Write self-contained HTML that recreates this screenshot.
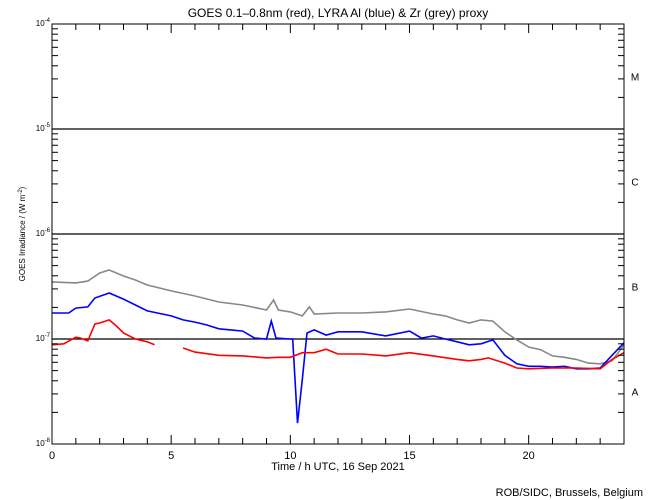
<!DOCTYPE html>
<html><head><meta charset="utf-8"><style>
body{margin:0;background:#fff}
svg{display:block;font-family:"Liberation Sans",sans-serif}
</style></head><body>
<svg id="chart" width="650" height="500" viewBox="0 0 650 500">
<rect width="650" height="500" fill="#fff"/>
<text x="338" y="17" font-size="12" text-anchor="middle">GOES 0.1–0.8nm (red), LYRA Al (blue) &amp; Zr (grey) proxy</text>
<g id="grid"></g>
<g id="series"></g>
<rect x="52" y="24" width="572" height="420" fill="none" stroke="#000" stroke-width="1"/>
<g id="axes"></g>
<text transform="translate(25,234) rotate(-90)" font-size="8" text-anchor="middle">GOES Irradiance / (W m<tspan dy="-3" font-size="6">-2</tspan><tspan dy="3">)</tspan></text>
<text x="338" y="470" font-size="11" text-anchor="middle">Time / h UTC, 16 Sep 2021</text>
<text x="643" y="496" font-size="11" text-anchor="end">ROB/SIDC, Brussels, Belgium</text>
</svg>
<script>
const hoursGrey=[0,1,1.5,2,2.4,3,3.5,4,5,6,7,8,9,9.3,9.5,10,10.5,10.8,11,12,13,14,15,16,16.5,17,17.5,18,18.5,19,19.5,20,20.5,21,21.5,22,22.5,23,23.5,24];
const zrGrey=[3.5e-7,3.42e-7,3.56e-7,4.25e-7,4.54e-7,3.98e-7,3.65e-7,3.27e-7,2.87e-7,2.57e-7,2.25e-7,2.11e-7,1.89e-7,2.35e-7,1.89e-7,1.81e-7,1.66e-7,2.02e-7,1.73e-7,1.77e-7,1.77e-7,1.81e-7,1.93e-7,1.73e-7,1.66e-7,1.52e-7,1.42e-7,1.52e-7,1.48e-7,1.17e-7,0.98e-7,0.84e-7,0.79e-7,0.69e-7,0.67e-7,0.64e-7,0.59e-7,0.58e-7,0.62e-7,0.88e-7];
const hoursBlue=[0,0.7,1,1.5,1.8,2.4,3,3.5,4,5,5.5,6,6.5,7,7.5,8,8.5,9,9.2,9.4,10,10.1,10.3,10.5,10.7,11,11.5,12,13,14,15,15.5,16,16.5,17,17.5,18,18.5,19,19.5,20,20.5,21,21.5,22,22.5,23,23.5,24];
const alBlue=[1.77e-7,1.77e-7,1.97e-7,2.02e-7,2.46e-7,2.74e-7,2.4e-7,2.11e-7,1.85e-7,1.66e-7,1.52e-7,1.45e-7,1.36e-7,1.25e-7,1.22e-7,1.19e-7,1.02e-7,1.0e-7,1.48e-7,1.02e-7,1.0e-7,1.0e-7,1.58e-8,4.1e-8,1.14e-7,1.22e-7,1.09e-7,1.17e-7,1.17e-7,1.07e-7,1.19e-7,1.02e-7,1.07e-7,1.0e-7,0.94e-7,0.88e-7,0.9e-7,0.98e-7,0.7e-7,0.58e-7,0.55e-7,0.55e-7,0.54e-7,0.55e-7,0.52e-7,0.52e-7,0.53e-7,0.7e-7,0.92e-7];
const hoursRed=[0,0.5,1,1.2,1.5,1.8,2,2.4,2.7,3,3.5,4,4.3,null,5.5,6,7,8,9,9.5,10,10.5,11,11.5,12,13,14,15,16,17,17.5,18,18.3,19,19.5,20,21,22,23,23.5,24];
const goesRed=[0.88e-7,0.9e-7,1.04e-7,1.02e-7,0.96e-7,1.39e-7,1.42e-7,1.52e-7,1.33e-7,1.14e-7,1.0e-7,0.94e-7,0.88e-7,null,0.82e-7,0.75e-7,0.7e-7,0.69e-7,0.66e-7,0.67e-7,0.67e-7,0.74e-7,0.74e-7,0.8e-7,0.72e-7,0.72e-7,0.69e-7,0.74e-7,0.69e-7,0.64e-7,0.62e-7,0.64e-7,0.66e-7,0.59e-7,0.53e-7,0.52e-7,0.53e-7,0.53e-7,0.52e-7,0.64e-7,0.74e-7];
const xTickLabels=[0,5,10,15,20];
const yDecades=[-8,-7,-6,-5,-4];
const classLabels=["A","B","C","M"];

const NS="http://www.w3.org/2000/svg";
const X0=52,X1=624,Y0=444,Y1=24;
function xs(h){return X0+(h/24)*(X1-X0);}
function ys(v){return Y0-(Math.log10(v)+8)/4*(Y0-Y1);}
function mk(tag,attrs,parent){const e=document.createElementNS(NS,tag);for(const k in attrs)e.setAttribute(k,attrs[k]);parent.appendChild(e);return e;}
const grid=document.getElementById('grid'),axes=document.getElementById('axes'),ser=document.getElementById('series');

[-7,-6,-5].forEach(d=>{
  const l=mk('line',{x1:X0,x2:X1,y1:ys(Math.pow(10,d)),y2:ys(Math.pow(10,d)),stroke:'#000','stroke-width':1.3},grid);
  
  
});
for(let h=0;h<=24;h++){
  const len=(h%5===0)?9:6;
  const t1=mk('line',{x1:xs(h),x2:xs(h),y1:Y0,y2:Y0-len,stroke:'#000'},axes);
  
  
  const t2=mk('line',{x1:xs(h),x2:xs(h),y1:Y1,y2:Y1+len,stroke:'#000'},axes);
  
  
}
xTickLabels.forEach(h=>{
  const t=mk('text',{x:xs(h),y:Y0+15,'font-size':11,'text-anchor':'middle'},axes);t.textContent=h;
  
  
});
for(let d=-8;d<-4;d++){for(let m=2;m<=9;m++){
  const y=ys(m*Math.pow(10,d));
  const a=mk('line',{x1:X0,x2:X0+6,y1:y,y2:y,stroke:'#000'},axes);
  
  
  const b=mk('line',{x1:X1,x2:X1-6,y1:y,y2:y,stroke:'#000'},axes);
  
  
}}
yDecades.forEach(d=>{
  const y=ys(Math.pow(10,d));
  const t=mk('text',{x:X0-2,y:y+2,'font-size':8,'text-anchor':'end'},axes);
  t.innerHTML='10<tspan dy="-4" font-size="6">'+d+'</tspan>';
  
  
});
classLabels.forEach((c,i)=>{
  const y=(ys(Math.pow(10,-8+i))+ys(Math.pow(10,-7+i)))/2;
  const t=mk('text',{x:635,y:y+4,'font-size':10,'text-anchor':'middle'},axes);t.textContent=c;
  
  
});
function draw(hs,vs,color,name){
  let d='',pen=false;
  for(let i=0;i<hs.length;i++){
    if(hs[i]===null||vs[i]===null){pen=false;continue;}
    d+=(pen?'L':'M')+xs(hs[i]).toFixed(1)+' '+ys(vs[i]).toFixed(1);pen=true;
  }
  const p=mk('path',{d:d,fill:'none',stroke:color,'stroke-width':1.6},ser);
  
  
}
draw(hoursGrey,zrGrey,'#888888','zr-grey-series');
draw(hoursBlue,alBlue,'#0000ff','al-blue-series');
draw(hoursRed,goesRed,'#ff0000','goes-red-series');
</script>
</body></html>
